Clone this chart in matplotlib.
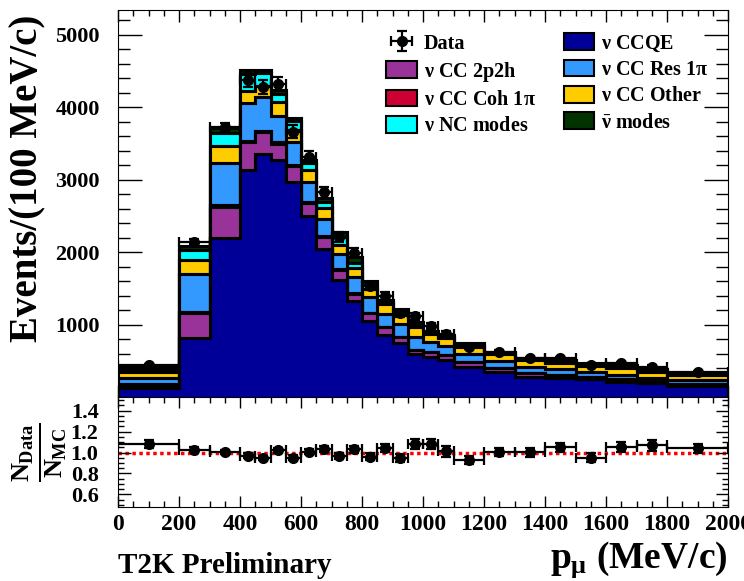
import numpy as np
import matplotlib
matplotlib.use('Agg')
import matplotlib.pyplot as plt
from matplotlib.patches import Patch
from matplotlib.ticker import MultipleLocator, FixedLocator

plt.rcParams['font.family'] = ['Liberation Serif', 'DejaVu Serif']
plt.rcParams['font.weight'] = 'bold'
plt.rcParams['mathtext.fontset'] = 'custom'
plt.rcParams['mathtext.rm'] = 'Liberation Serif:bold'
plt.rcParams['mathtext.it'] = 'Liberation Serif:bold'
plt.rcParams['mathtext.bf'] = 'Liberation Serif:bold'

# muon momentum bin edges (MeV/c)
edges = [0, 200, 300, 400, 450, 500, 550, 600, 650, 700, 750, 800, 850, 900,
         950, 1000, 1050, 1100, 1200, 1300, 1400, 1500, 1600, 1700, 1800, 2000]

# MC prediction per mode, events / (100 MeV/c)
ccqe = [120, 815, 2200, 3135, 3350, 3280, 2975, 2500, 2045, 1610, 1320, 1055, 860,
        740, 595, 548, 510, 420, 350, 275, 258, 244, 212, 190, 148]
cc2p2h = [50, 340, 430, 380, 305, 220, 215, 185, 160, 150, 105, 100, 100,
          85, 55, 75, 70, 60, 45, 50, 45, 30, 35, 30, 32]
cccoh = [5, 15, 20, 20, 20, 15, 15, 15, 12, 10, 10, 8, 8,
         7, 6, 5, 5, 5, 4, 4, 3, 3, 3, 3, 3]
ccres = [90, 530, 585, 520, 470, 365, 320, 270, 235, 205, 220, 215, 180,
         175, 178, 135, 125, 110, 98, 88, 76, 62, 55, 45, 52]
ccother = [75, 195, 230, 170, 155, 200, 160, 160, 155, 125, 120, 110, 135,
           125, 138, 105, 100, 100, 100, 92, 92, 84, 92, 83, 70]
ncmodes = [45, 140, 185, 240, 170, 110, 130, 95, 80, 110, 80, 60, 30,
           45, 30, 20, 25, 25, 15, 14, 18, 22, 22, 20, 16]
nubar = [25, 45, 60, 50, 45, 50, 45, 55, 55, 70, 80, 50, 30,
         40, 30, 20, 25, 28, 13, 12, 17, 22, 22, 22, 15]

# observed data, events / (100 MeV/c)
data = [443, 2140, 3725, 4380, 4280, 4325, 3665, 3310, 2825, 2212, 1993, 1534, 1397,
        1156, 1115, 981, 869, 696, 627, 536, 534, 444, 463, 420, 349]

modes = [
    (ccqe, '#000099', r'$\nu$ CCQE'),
    (cc2p2h, '#993399', r'$\nu$ CC 2p2h'),
    (cccoh, '#cc0033', r'$\nu$ CC Coh 1$\pi$'),
    (ccres, '#3399ff', r'$\nu$ CC Res 1$\pi$'),
    (ccother, '#ffcc00', r'$\nu$ CC Other'),
    (ncmodes, '#00ffff', r'$\nu$ NC modes'),
    (nubar, '#003300', r'$\bar{\nu}$ modes'),
]

edges = np.array(edges, dtype=float)
centers = 0.5 * (edges[1:] + edges[:-1])
half = 0.5 * np.diff(edges)
width = np.diff(edges)
data = np.array(data, dtype=float)
# poisson errors, rescaled to the per-100 MeV/c normalisation
counts = data * width / 100.
derr = np.sqrt(counts) * 100. / width

stack = np.cumsum([np.array(m[0], dtype=float) for m in modes], axis=0)
mc_total = stack[-1]
ratio = data / mc_total
rerr = derr / mc_total

fig = plt.figure(figsize=(7.44, 5.81), dpi=100)
W, H = 744., 581.
ax = fig.add_axes([118 / W, 1 - 397 / H, 610 / W, 387 / H])
rax = fig.add_axes([118 / W, 1 - 507 / H, 610 / W, 110 / H])

# draw the stack from the top layer down so each lower layer covers the one above
for i in range(len(modes) - 1, -1, -1):
    ax.stairs(stack[i], edges, baseline=0, fill=True, facecolor=modes[i][1],
              edgecolor='black', linewidth=2.2, zorder=2)
    ax.stairs(stack[i], edges, baseline=0, fill=False, color='black',
              linewidth=2.2, zorder=2)

eb = ax.errorbar(centers, data, xerr=half, yerr=derr, fmt='o', color='black',
                 markersize=7, elinewidth=1.6, capsize=3.5, capthick=1.6, zorder=5)

ax.set_xlim(0, 2000)
ax.set_ylim(0, 5345)
ax.yaxis.set_major_locator(FixedLocator([1000, 2000, 3000, 4000, 5000]))
ax.yaxis.set_minor_locator(MultipleLocator(200))
ax.xaxis.set_major_locator(MultipleLocator(200))
ax.xaxis.set_minor_locator(MultipleLocator(50))
ax.tick_params(which='both', direction='in', top=True, right=True,
               labelbottom=False, width=1.0)
ax.tick_params(axis='y', which='major', length=17, labelsize=16, pad=13)
ax.tick_params(axis='y', which='minor', length=8.5)
ax.tick_params(axis='x', which='major', length=8.5)
ax.tick_params(axis='x', which='minor', length=4.3)
for lab in ax.get_yticklabels():
    lab.set_fontweight('bold')

handles = [eb]
labels = ['Data']
for idx in [1, 2, 5, 0, 3, 4, 6]:
    handles.append(Patch(facecolor=modes[idx][1], edgecolor='black', linewidth=1.5))
    labels.append(modes[idx][2])
ax.legend(handles, labels, ncol=2, loc='upper left', bbox_to_anchor=(0.44, 0.94),
          frameon=False, fontsize=14.5, handlelength=1.5, handleheight=0.9,
          handletextpad=0.35, labelspacing=0.3, columnspacing=1.4,
          borderpad=0, borderaxespad=0)

fig.text(28 / W, 1 - 15 / H, 'Events/(100 MeV/c)', rotation=90, ha='center',
         va='top', fontsize=28, fontweight='bold')

# ratio panel
rax.axhline(1.0, color='red', linestyle=(0, (1, 1)), linewidth=2.5, zorder=1)
rax.errorbar(centers, ratio, xerr=half, yerr=rerr, fmt='o', color='black',
             markersize=7, elinewidth=1.6, capsize=3.5, capthick=1.6, zorder=5)
rax.set_xlim(0, 2000)
rax.set_ylim(0.48, 1.53)
rax.yaxis.set_major_locator(FixedLocator([0.6, 0.8, 1.0, 1.2, 1.4]))
rax.yaxis.set_minor_locator(MultipleLocator(0.05))
rax.xaxis.set_major_locator(MultipleLocator(200))
rax.xaxis.set_minor_locator(MultipleLocator(50))
rax.tick_params(which='both', direction='in', top=True, right=True, width=1.0)
rax.tick_params(axis='y', which='major', length=9, labelsize=16, pad=14)
rax.tick_params(axis='y', which='minor', length=4.5)
rax.tick_params(axis='x', which='major', length=8, labelsize=17, pad=5)
rax.tick_params(axis='x', which='minor', length=4)
rax.yaxis.set_major_formatter(plt.FuncFormatter(lambda v, p: '%.1f' % v))
for lab in rax.get_yticklabels() + rax.get_xticklabels():
    lab.set_fontweight('bold')

fig.text(40 / W, 1 - 452 / H, r'$\frac{N_{\rm Data}}{N_{\rm MC}}$', rotation=90,
         ha='center', va='center', fontsize=27)

fig.text(118 / W, 1 - 573 / H, 'T2K Preliminary', ha='left', va='baseline',
         fontsize=21, fontweight='bold')
fig.text(728 / W, 1 - 568 / H, r'$p_{\mu}$ (MeV/c)', ha='right', va='baseline',
         fontsize=27, fontweight='bold')

fig.savefig('out.png', dpi=100)
